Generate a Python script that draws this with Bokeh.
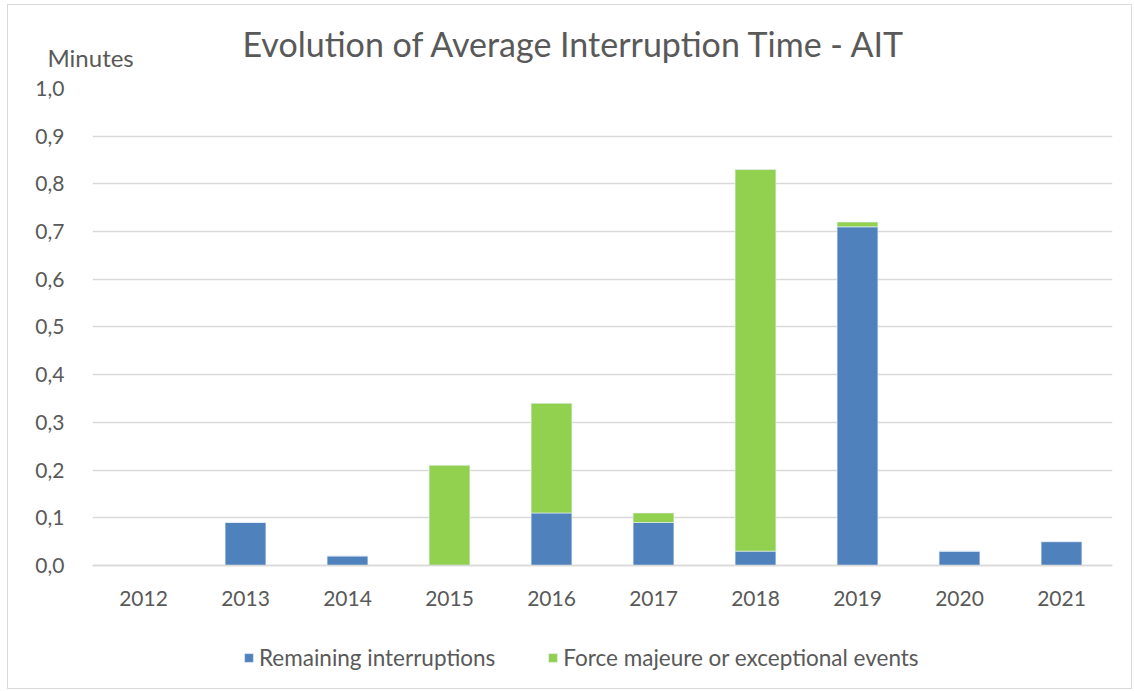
from bokeh.plotting import figure
from bokeh.models import (FactorRange, Range1d, CustomJSTickFormatter, Legend, LegendItem,
                          Title, FixedTicker, ColumnDataSource)
from bokeh.embed import file_html
from bokeh.resources import INLINE

years = ["2012", "2013", "2014", "2015", "2016", "2017", "2018", "2019", "2020", "2021"]
remaining = [0.0, 0.09, 0.02, 0.0, 0.11, 0.09, 0.03, 0.71, 0.03, 0.05]
force_majeure = [0.0, 0.0, 0.0, 0.21, 0.23, 0.02, 0.80, 0.01, 0.0, 0.0]
y_ticks = [0.0, 0.1, 0.2, 0.3, 0.4, 0.5, 0.6, 0.7, 0.8, 0.9, 1.0]
series_names = ["Remaining interruptions", "Force majeure or exceptional events"]
colors = ["#4f81bd", "#92d050"]
title_text = "Evolution of Average Interruption Time - AIT"
y_unit = "Minutes"

FONT = "Lato"
GREY = "#595959"

src = ColumnDataSource(dict(year=years, remaining=remaining, force=force_majeure))

# frame extends below zero to host the legend; the x axis is pinned at y = 0
p = figure(x_range=FactorRange(*years), y_range=Range1d(-0.258, 1.0),
           frame_width=1020, frame_height=600,
           min_border_left=84, min_border_right=19, min_border_top=83, min_border_bottom=0,
           output_backend="svg", toolbar_location=None)
p.title = None
p.x_range.range_padding = 0.0

rs = p.vbar_stack(["remaining", "force"], x="year", width=0.4, source=src,
                  color=colors, line_color="#e8f0f8", line_width=0.6)

p.yaxis.ticker = FixedTicker(ticks=y_ticks)
p.yaxis.formatter = CustomJSTickFormatter(code="return tick.toFixed(1).replace('.', ',');")
p.yaxis.axis_line_color = None
p.yaxis.major_tick_line_color = None
p.yaxis.minor_tick_line_color = None
p.yaxis.major_label_standoff = 22
p.yaxis.major_label_text_font = FONT
p.yaxis.major_label_text_font_size = "21px"
p.yaxis.major_label_text_color = GREY

p.xaxis.fixed_location = 0
p.xaxis.axis_line_color = "#d9d9d9"
p.xaxis.axis_line_width = 1.5
p.xaxis.major_tick_line_color = None
p.xaxis.minor_tick_line_color = None
p.xaxis.major_label_standoff = 20
p.xaxis.major_label_text_font = FONT
p.xaxis.major_label_text_font_size = "21px"
p.xaxis.major_label_text_color = GREY

p.xgrid.grid_line_color = None
p.ygrid.grid_line_color = "#d9d9d9"
p.ygrid.grid_line_width = 1.5
p.outline_line_color = None

minutes = Title(text=y_unit, align="left", offset=-45, standoff=33,
                text_font=FONT, text_font_size="24px", text_color=GREY,
                text_font_style="normal")
p.add_layout(minutes, "above")
main_title = Title(text=title_text, align="left", offset=150, standoff=-78,
                   text_font=FONT, text_font_size="34px", text_color=GREY,
                   text_font_style="normal")
p.add_layout(main_title, "above")

legend = Legend(items=[LegendItem(label=series_names[i], renderers=[rs[i]]) for i in range(2)],
                orientation="horizontal", location=(151, 17),
                label_text_font=FONT, label_text_font_size="22.5px", label_text_color=GREY,
                glyph_width=11, glyph_height=11, label_standoff=5, spacing=52,
                border_line_color=None, background_fill_alpha=0, margin=0, padding=0)
p.add_layout(legend, "center")

p.styles = {"border": "1.5px solid #d9d9d9", "margin-left": "7px", "margin-top": "4px"}

open("out.html", "w").write(file_html(p, INLINE))
